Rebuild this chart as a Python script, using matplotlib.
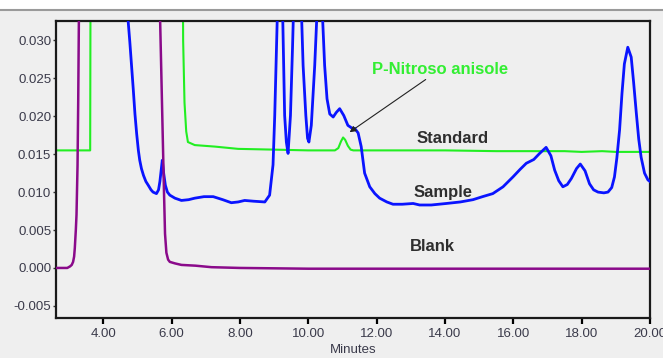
import matplotlib
matplotlib.use("Agg")
import matplotlib.pyplot as plt
from matplotlib.lines import Line2D
from matplotlib.patches import Rectangle
from matplotlib.ticker import FormatStrFormatter

plt.rcParams['font.family'] = ['Liberation Sans', 'DejaVu Sans']

# ---------------- data ----------------
x_ticks = [4, 6, 8, 10, 12, 14, 16, 18, 20]
y_ticks = [-0.005, 0.000, 0.005, 0.010, 0.015, 0.020, 0.025, 0.030]

std_t = [2.62, 3.62, 3.64, 6.31, 6.34, 6.38, 6.43, 6.48, 6.68, 7.27, 7.95, 9.0, 10.0,
         10.78, 10.88, 10.96, 11.02, 11.08, 11.16, 11.24, 11.32, 12.0, 14.0, 15.5,
         16.5, 17.5, 18.0, 18.6, 19.0, 20.0]
std_y = [0.0155, 0.0155, 0.060, 0.060, 0.030, 0.0218, 0.0180, 0.0166, 0.0162, 0.0160,
         0.0157, 0.0156, 0.0155, 0.0155, 0.0158, 0.0167, 0.0172, 0.0169, 0.0161, 0.0156,
         0.0155, 0.0155, 0.0155, 0.0154, 0.0154, 0.0154, 0.0153, 0.0154, 0.0153, 0.0153]

smp_t = [2.62, 4.70, 4.73, 4.78, 4.83, 4.88, 4.93, 4.98, 5.03, 5.07, 5.12, 5.18, 5.25,
         5.32, 5.40, 5.46, 5.56, 5.62,
         5.66, 5.70, 5.73, 5.77, 5.82, 5.88, 5.95, 6.10, 6.29, 6.50, 6.68, 6.95, 7.22,
         7.50, 7.75, 7.95, 8.14, 8.40, 8.73, 8.87, 8.97, 9.02, 9.10, 9.16, 9.25, 9.31,
         9.36, 9.41, 9.48, 9.54, 9.57, 9.68, 9.80, 9.85, 9.93, 9.98, 10.02, 10.09, 10.19,
         10.26, 10.34, 10.41, 10.48, 10.55, 10.63, 10.73, 10.82, 10.92, 11.04, 11.16,
         11.29, 11.36, 11.46, 11.55, 11.65, 11.80, 11.95, 12.09, 12.30, 12.48, 12.75,
         13.07, 13.26, 13.60, 14.04, 14.45, 14.82, 15.10, 15.40, 15.70, 15.99, 16.20,
         16.38, 16.60, 16.77, 16.96, 17.10, 17.21, 17.33, 17.45, 17.58, 17.70, 17.85,
         17.96, 18.10, 18.23, 18.35, 18.48, 18.65, 18.77, 18.88, 18.96, 19.03, 19.11,
         19.18, 19.25, 19.35, 19.45, 19.52, 19.60, 19.67, 19.74, 19.84, 19.94, 20.0]
smp_y = [0.060, 0.060, 0.0326, 0.0298, 0.0267, 0.0236, 0.0203, 0.0177, 0.0155, 0.0142,
         0.0131, 0.0122, 0.0114, 0.0109, 0.0103,
         0.0100, 0.0098, 0.0103, 0.0114, 0.0130, 0.0142, 0.0125, 0.0109, 0.0100, 0.0096,
         0.0092, 0.0089, 0.0090, 0.0092, 0.0094, 0.0094, 0.0090, 0.0086, 0.0087, 0.0089,
         0.0088, 0.0087, 0.0096, 0.0136, 0.0201, 0.034, 0.045, 0.034, 0.0201, 0.0166,
         0.0151, 0.0201, 0.0290, 0.034, 0.045, 0.034, 0.0267, 0.0201, 0.0171, 0.0166,
         0.0188, 0.0267, 0.034, 0.045, 0.034, 0.0267, 0.0223, 0.0203, 0.0199, 0.0205,
         0.0210, 0.0201, 0.0188, 0.0184, 0.0184, 0.0178, 0.0160, 0.0125, 0.0107, 0.0098,
         0.0092, 0.0087, 0.0084, 0.0084, 0.0085, 0.0083, 0.0083, 0.0085, 0.0087, 0.0090,
         0.0094, 0.0098, 0.0107, 0.0120, 0.0130, 0.0138, 0.0143, 0.0151, 0.0159, 0.0148,
         0.0129, 0.0115, 0.0107, 0.0110, 0.0118, 0.0131, 0.0137, 0.0128, 0.0111, 0.0103,
         0.0100, 0.0099, 0.0100, 0.0106, 0.0120, 0.0145, 0.0182, 0.0230, 0.0269, 0.0291,
         0.0278, 0.0245, 0.0204, 0.0170, 0.0146, 0.0125, 0.0116, 0.0114]

blk_t = [2.62, 2.95, 3.03, 3.08, 3.12, 3.15, 3.17, 3.20, 3.22, 3.25, 3.27, 3.29, 3.35,
         5.60, 5.66, 5.70, 5.74, 5.78, 5.81, 5.85, 5.90, 5.95, 6.10, 6.29, 6.70, 7.17,
         8.0, 10.0, 12.0, 14.0, 16.0, 18.0, 20.0]
blk_y = [0.0000, 0.0000, 0.0002, 0.0004, 0.0008, 0.0015, 0.0026, 0.0050, 0.0070, 0.0135,
         0.0220, 0.0330, 0.060, 0.060, 0.034, 0.026, 0.018, 0.0100, 0.0045, 0.0020,
         0.0011, 0.0008, 0.0006, 0.0004, 0.0003, 0.0001, 0.0000, -0.0001, -0.0001,
         -0.0001, -0.0001, -0.0001, -0.0001]

# ---------------- figure ----------------
BG = '#efefef'
fig = plt.figure(figsize=(6.63, 3.58), dpi=100, facecolor=BG)

# top white strip and grey separator line
fig.add_artist(Rectangle((0, 1 - 8.5 / 358), 1, 8.5 / 358, transform=fig.transFigure,
                         facecolor='white', edgecolor='none', zorder=0))
fig.add_artist(Line2D([0, 1], [1 - 10 / 358, 1 - 10 / 358], transform=fig.transFigure,
                      color='#9a9a9a', lw=1.5))

ax = fig.add_axes([56 / 663, 1 - 318 / 358, (650 - 56) / 663, (318 - 20.7) / 358])
ax.set_facecolor(BG)

ax.plot(std_t, std_y, color='#22ee22', lw=1.5, zorder=2, solid_joinstyle='round')
ax.plot(smp_t, smp_y, color='#0a14ff', lw=2.0, zorder=3, solid_joinstyle='round')
ax.plot(blk_t, blk_y, color='#8a0a8a', lw=1.8, zorder=4, solid_joinstyle='round')

ax.set_xlim(2.62, 20.0)
ax.set_ylim(-0.0066, 0.0326)

ax.set_xticks(x_ticks)
ax.set_yticks(y_ticks)
ax.xaxis.set_major_formatter(FormatStrFormatter('%.2f'))
ax.yaxis.set_major_formatter(FormatStrFormatter('%.3f'))
ax.tick_params(axis='x', direction='out', length=4.5, width=1.6, color='black',
               labelsize=9.5, labelcolor='#3a3a4a', pad=2.5)
ax.tick_params(axis='y', direction='out', length=2.5, width=1.0, color='#333333',
               labelsize=9.5, labelcolor='#3a3a4a', pad=1)
for s in ax.spines.values():
    s.set_linewidth(1.6)
    s.set_color('#1a1a1a')

ax.set_xlabel('Minutes', fontsize=9.5, color='#3a3a4a', labelpad=3)

# annotations
ax.annotate('P-Nitroso anisole', xy=(11.21, 0.0179), xytext=(11.88, 0.0262),
            fontsize=12, fontweight='bold', color='#33ee33', ha='left', va='center',
            arrowprops=dict(arrowstyle='-|>', color='#222222', lw=0.8,
                            mutation_scale=9, shrinkA=0, shrinkB=0))
ax.text(14.22, 0.0171, 'Standard', fontsize=12, fontweight='bold', color='#2e2e2e',
        ha='center', va='center')
ax.text(13.93, 0.0099, 'Sample', fontsize=12, fontweight='bold', color='#2e2e2e',
        ha='center', va='center')
ax.text(13.64, 0.0028, 'Blank', fontsize=12, fontweight='bold', color='#2e2e2e',
        ha='center', va='center')

fig.savefig('out.png', dpi=100, facecolor=BG)
